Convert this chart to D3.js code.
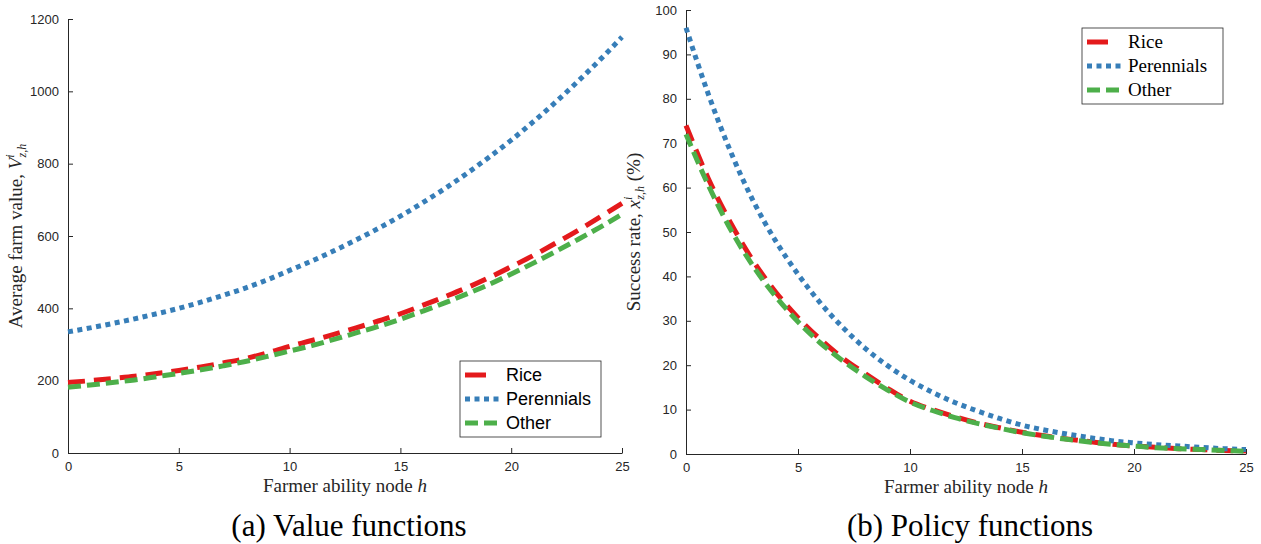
<!DOCTYPE html>
<html lang="en">
<head>
<meta charset="UTF-8">
<title>Value and policy functions</title>
<script src="https://cdnjs.cloudflare.com/ajax/libs/d3/7.8.5/d3.min.js"></script>
<style>
  body { margin: 0; background: #fff; }
  .tick text { font-family: "Liberation Sans", Arial, sans-serif; font-size: 13px; fill: #262626; }
  .domain, .tick line { stroke: #262626; }
  .serif { font-family: "Liberation Serif", "DejaVu Serif", serif; }
</style>
</head>
<body>
<div id="chart"></div>
<script>
  var nodes = d3.range(0, 26);

  // left panel: average farm value
  var valueRice = [195,200,206,212,220,228,238,249,261,277,295,311,328,346,365,385,408,432,457,485,515,546,580,615,652,690];
  var valuePerennials = [335,346,358,371,385,400,417,436,456,479,505,531,559,589,621,655,692,731,773,818,865,916,970,1027,1087,1150];
  var valueOther = [182,188,195,202,211,220,230,241,253,267,282,297,314,332,350,370,392,415,440,466,495,525,557,590,624,660];

  // right panel: success rate (%)
  var rateRice = [74,62,52,43.5,36.5,30.7,25.8,21.6,18.1,14.8,11.9,10,8.4,7,5.9,4.9,4.1,3.4,2.8,2.2,1.8,1.5,1.2,1.0,0.8,0.7];
  var ratePerennials = [96,81,68,57,48,40.5,34,28.5,23.8,19.9,16.6,13.9,11.6,9.7,8.0,6.5,5.4,4.5,3.7,3.0,2.5,2.1,1.8,1.5,1.2,1.0];
  var rateOther = [72,60.5,50.5,42.3,35.5,29.8,25,21,17.5,14.4,11.7,9.8,8.2,6.9,5.8,4.8,4,3.3,2.7,2.2,1.8,1.4,1.2,1.0,0.8,0.6];

  var xTicks = [0, 5, 10, 15, 20, 25];
  var valueTicks = [0, 200, 400, 600, 800, 1000, 1200];
  var rateTicks = [0, 10, 20, 30, 40, 50, 60, 70, 80, 90, 100];
  var seriesNames = ["Rice", "Perennials", "Other"];

  var colors = { Rice: "#e41a1c", Perennials: "#377eb8", Other: "#4daf4a" };
  var dashes = { Rice: "17,9", Perennials: "5,4.5", Other: "13,6" };

  var svg = d3.select("#chart").append("svg")
    .attr("width", 1261).attr("height", 544);

  function panel(opt) {
    var g = svg.append("g");
    var x = d3.scaleLinear().domain([0, 25]).range([opt.left, opt.right]);
    var y = d3.scaleLinear().domain(opt.domain).range([opt.bottom, opt.top]);

    g.append("g").attr("transform", "translate(0," + opt.bottom + ")")
      .call(d3.axisBottom(x).tickValues(xTicks).tickFormat(d3.format("d")).tickSizeInner(-5).tickSizeOuter(0).tickPadding(9));
    g.append("g").attr("transform", "translate(" + opt.left + ",0)")
      .call(d3.axisLeft(y).tickValues(opt.ticks).tickFormat(d3.format("d")).tickSizeInner(-5).tickSizeOuter(0).tickPadding(9));

    var line = d3.line().x(function(d, i) { return x(nodes[i]); }).y(function(d) { return y(d); })
      .curve(d3.curveMonotoneX);

    opt.series.forEach(function(s) {
      g.append("path").datum(s.values)
        .attr("d", line).attr("fill", "none")
        .attr("stroke", colors[s.name]).attr("stroke-width", 5)
        .attr("stroke-dasharray", dashes[s.name]);
    });

    g.append("text").attr("class", "serif")
      .attr("x", (opt.left + opt.right) / 2).attr("y", opt.bottom + 39)
      .attr("text-anchor", "middle").attr("font-size", 19).attr("fill", "#262626")
      .html(opt.xlabel);

    g.append("text").attr("class", "serif")
      .attr("transform", "translate(" + (opt.left - 46) + "," + ((opt.top + opt.bottom) / 2) + ") rotate(-90)")
      .attr("text-anchor", "middle").attr("font-size", 19).attr("fill", "#262626")
      .html(opt.ylabel);

    g.append("text").attr("class", "serif")
      .attr("x", (opt.left + opt.right) / 2 + 4).attr("y", 536)
      .attr("text-anchor", "middle").attr("font-size", 31).attr("fill", "#000")
      .text(opt.caption);

    // legend
    var lg = g.append("g").attr("transform", "translate(" + opt.legend[0] + "," + opt.legend[1] + ")");
    lg.append("rect").attr("width", 141).attr("height", 76)
      .attr("fill", "#fff").attr("stroke", "#262626").attr("stroke-width", 0.8);
    seriesNames.forEach(function(n, i) {
      var yy = 14 + i * 24;
      lg.append("line").attr("x1", 5).attr("x2", 40).attr("y1", yy).attr("y2", yy)
        .attr("stroke", colors[n]).attr("stroke-width", 5)
        .attr("stroke-dasharray", n === "Rice" ? "21,40" : dashes[n]);
      lg.append("text").attr("x", 46).attr("y", yy + 6)
        .attr("font-family", opt.legendFont).attr("font-size", opt.legendSize).attr("fill", "#000")
        .text(n);
    });
  }

  panel({
    left: 68, right: 622, top: 19, bottom: 453,
    domain: [0, 1200], ticks: valueTicks,
    series: [{ name: "Rice", values: valueRice }, { name: "Perennials", values: valuePerennials }, { name: "Other", values: valueOther }],
    xlabel: 'Farmer ability node <tspan font-style="italic">h</tspan>',
    ylabel: 'Average farm value, <tspan font-style="italic">V</tspan><tspan font-style="italic" font-size="12" dy="-8">i</tspan><tspan font-style="italic" font-size="12" dx="-3" dy="12">z,h</tspan>',
    caption: "(a) Value functions",
    legend: [460, 361], legendFont: '"Liberation Sans", Arial, sans-serif', legendSize: 18
  });

  panel({
    left: 686, right: 1246, top: 10, bottom: 454,
    domain: [0, 100], ticks: rateTicks,
    series: [{ name: "Rice", values: rateRice }, { name: "Perennials", values: ratePerennials }, { name: "Other", values: rateOther }],
    xlabel: 'Farmer ability node <tspan font-style="italic">h</tspan>',
    ylabel: 'Success rate, <tspan font-style="italic">x</tspan><tspan font-style="italic" font-size="12" dy="-8">i</tspan><tspan font-style="italic" font-size="12" dx="-3" dy="12">z,h</tspan><tspan dy="-4"> (%)</tspan>',
    caption: "(b) Policy functions",
    legend: [1082, 28], legendFont: '"Liberation Serif", serif', legendSize: 19
  });
</script>
</body>
</html>
